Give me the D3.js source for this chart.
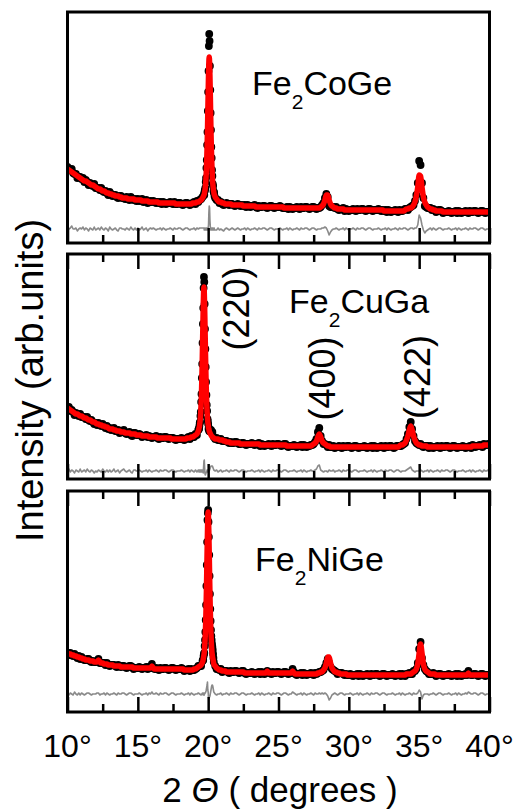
<!DOCTYPE html>
<html>
<head>
<meta charset="utf-8">
<script src="https://cdn.jsdelivr.net/npm/d3@7"></script>
<style>
  html, body { margin: 0; padding: 0; background: #fff; }
  svg { display: block; font-family: "Liberation Sans", Arial, Helvetica, sans-serif; }
</style>
</head>
<body>
<svg id="chart" width="519" height="812"></svg>
<script>
// ---- XRD scans: 2θ from 10° to 40°, main grid step 0.1°, fine grid 0.025° across the (220) peak ----
const scanStart = 10;
const scanStep = 0.1;
const fineStep = 0.025;

// Fe2CoGe
const coGeObs = [
  76,73,73,74,70,69,69,65,66,66, 64,65,61,63,61,58,60,58,57,59,
  55,55,55,53,55,52,51,52,50,48, 51,49,47,48,48,46,45,47,47,45,
  45,44,46,44,43,46,44,43,44,42, 44,42,43,44,41,42,43,40,41,42,
  41,42,41,40,41,40,41,39,41,40, 39,40,40,41,40,39,41,39,39,40,
  40,39,38,39,40,40,39,38,39,40, 41,39,42,41,43,44,46,49,55,83,
  151,202,113,67,51,45,43,43,40,41, 39,38,39,40,39,38,39,39,38,37,
  38,39,38,37,38,37,38,36,38,37, 36,37,37,38,36,35,37,36,36,37,
  37,36,35,36,37,37,36,35,36,36, 36,37,36,35,35,35,36,34,36,35,
  34,35,35,36,35,34,36,35,35,36, 36,35,34,35,36,36,35,34,35,35,
  36,38,40,45,49,46,37,36,36,36, 35,36,34,33,34,34,35,32,34,33,
  32,33,33,34,33,32,34,33,33,34, 34,33,32,33,34,34,33,32,33,33,
  33,34,33,32,33,32,33,31,33,32, 31,32,32,33,32,31,33,32,32,33,
  34,34,33,35,36,37,38,42,48,60, 82,78,60,45,37,36,35,35,35,33,
  34,33,31,32,33,33,32,30,31,31, 31,32,31,30,31,31,32,30,32,31,
  30,31,31,32,31,30,32,31,31,32, 32,31,30,31,32,32,31,30,31,31,
  31
];
const coGeCalc = [
  74,73,72,71,70,69,68,67,66,65, 64,63,62,62,61,60,59,58,58,57,
  56,55,54,54,53,52,52,51,50,50, 49,49,48,48,47,47,47,46,46,45,
  45,45,45,44,44,44,44,44,43,43, 43,43,43,42,42,42,42,42,41,41,
  41,41,41,41,41,40,40,40,40,40, 40,40,40,40,40,40,40,39,39,39,
  39,39,39,39,39,39,39,39,39,40, 40,40,41,41,42,43,45,48,56,84,
  150,181,112,66,51,46,44,42,41,41, 40,40,39,39,39,39,39,38,38,38,
  38,38,38,38,38,37,37,37,37,37, 37,37,37,37,36,36,36,36,36,36,
  36,36,36,36,36,36,36,36,36,36, 36,36,36,36,35,35,35,35,35,35,
  35,35,35,35,35,35,35,35,35,35, 35,35,35,35,35,35,35,35,35,35,
  36,37,39,43,48,48,43,39,37,36, 35,35,34,34,34,34,34,33,33,33,
  33,33,33,33,33,33,33,33,33,33, 33,33,33,33,33,33,33,33,33,33,
  33,33,33,33,33,32,32,32,32,32, 32,32,32,32,32,32,32,32,32,32,
  33,34,34,35,35,36,38,41,47,56, 68,67,56,46,41,38,36,35,34,34,
  33,33,32,32,32,32,32,31,31,31, 31,31,31,31,31,31,31,31,31,31,
  31,31,31,31,31,31,31,31,31,31, 31,31,31,31,31,31,31,31,31,31,
  31
];
const coGePeakStart = 19.7;
const coGePeakObs  = [49,48,52,53,55,61,65,75,83,98,111,132,151,172,197,209,202,177,153,130,113,96,85,73,67,59,57,52,51,50,47];
const coGePeakCalc = [48,49,51,53,56,60,66,74,84,97,112,131,150,168,181,186,181,168,150,131,112,97,84,74,66,60,56,53,51,49,48];

// Fe2CuGa
const cuGaObs = [
  71,72,68,69,67,64,66,65,63,65, 62,62,62,60,62,59,58,59,57,55,
  56,54,56,54,53,55,53,51,53,50, 51,49,50,51,48,48,49,46,47,48,
  49,46,45,46,47,44,43,46,46,44, 44,45,44,42,43,43,44,42,43,42,
  41,42,42,43,41,40,42,41,41,42, 42,41,40,41,41,41,40,39,40,40,
  40,41,40,39,40,41,42,40,43,42, 42,45,44,49,56,77,136,202,130,74,
  55,48,49,47,42,40,41,39,39,40, 38,38,38,38,37,36,37,36,36,37,
  37,36,35,35,36,36,35,34,35,35, 35,36,35,34,35,35,36,33,35,34,
  33,34,34,35,34,33,35,34,34,35, 35,34,33,34,35,35,33,32,33,33,
  33,34,33,32,33,33,34,32,34,33, 32,33,33,34,34,35,37,40,47,51,
  43,38,35,35,34,32,34,32,32,33, 31,32,32,33,32,31,33,32,32,33,
  33,32,31,32,33,33,32,31,32,32, 32,33,32,31,32,32,33,31,33,32,
  31,32,32,33,32,31,33,32,32,33, 33,32,31,32,33,33,33,33,34,35,
  36,40,45,52,57,50,43,38,36,35, 34,35,33,32,33,33,33,31,33,32,
  31,32,32,33,32,31,33,32,32,33, 33,32,31,32,33,33,32,31,32,32,
  32,33,32,31,32,32,33,31,34,33, 32,33,33,34,33,32,35,34,34,35,
  34
];
const cuGaCalc = [
  71,70,69,68,67,66,65,65,64,63, 63,62,61,61,60,59,59,58,57,57,
  56,55,55,54,54,53,53,52,52,51, 50,50,50,49,49,48,48,48,47,47,
  47,46,46,46,46,45,45,45,45,44, 44,44,44,43,43,43,43,43,42,42,
  42,42,42,42,41,41,41,41,41,41, 41,41,41,41,40,40,40,40,40,40,
  40,40,40,40,40,41,41,41,42,42, 43,44,45,48,55,76,135,192,134,75,
  54,47,44,42,41,40,40,40,39,39, 39,38,38,37,37,37,36,36,36,36,
  36,36,36,35,35,35,35,35,35,35, 35,35,35,35,35,35,35,34,34,34,
  34,34,34,34,34,34,34,34,34,34, 34,34,34,34,34,34,33,33,33,33,
  33,33,33,33,33,33,33,33,33,33, 33,33,33,33,34,35,36,38,42,45,
  42,38,36,35,34,33,33,32,32,32, 32,32,32,32,32,32,32,32,32,32,
  32,32,32,32,32,32,32,32,32,32, 32,32,32,32,32,32,32,32,32,32,
  32,32,32,32,32,32,32,32,32,32, 32,32,32,32,32,32,33,34,34,35,
  36,39,43,49,53,49,43,39,36,35, 34,34,33,33,33,33,32,32,32,32,
  32,32,32,32,32,32,32,32,32,32, 32,32,32,32,32,32,32,32,32,32,
  32,32,32,32,32,32,32,32,33,33, 33,33,33,33,33,33,34,34,34,34,
  34
];
const cuGaPeakStart = 19.325;
const cuGaPeakObs  = [50,50,53,56,57,63,67,77,85,101,115,136,155,171,191,202,197,175,150,130,112,97,84,74,68,60,58,55,50,51,48];
const cuGaPeakCalc = [49,51,52,55,58,62,68,76,86,100,116,135,154,173,187,192,186,172,153,134,115,99,85,75,67,61,57,54,51,50,48];

// Fe2NiGe
const niGeObs = [
  59,57,59,57,56,58,56,54,56,53, 55,53,52,52,53,53,51,50,51,50,
  50,51,53,49,49,49,49,47,49,47, 46,47,47,47,46,45,47,46,45,46,
  46,45,44,45,46,46,45,43,44,44, 44,45,44,43,44,44,45,43,45,44,
  48,44,43,44,43,42,44,43,43,44, 44,43,42,43,44,44,43,42,43,43,
  43,44,43,41,42,42,43,41,43,42, 42,43,44,46,46,46,51,58,80,147,
  202,136,82,65,50,46,43,43,42,43, 40,41,41,41,40,39,41,40,40,41,
  41,40,39,40,41,41,39,38,39,39, 39,40,39,38,39,39,40,38,40,39,
  38,39,41,40,39,38,40,39,39,40, 40,39,38,39,40,40,39,38,39,39,
  43,40,38,37,38,38,39,37,39,38, 37,38,38,39,38,37,39,38,39,40,
  40,41,42,45,49,53,49,45,43,42, 41,40,38,39,39,39,38,37,38,37,
  37,38,37,36,37,37,38,36,38,37, 36,37,37,38,37,36,38,37,37,38,
  38,37,36,37,38,38,37,36,37,37, 37,38,37,36,37,37,38,36,38,37,
  36,38,38,39,38,38,41,41,43,49, 63,70,54,47,43,41,40,38,38,38,
  39,38,36,37,38,38,37,36,37,37, 37,38,37,36,37,37,38,36,38,37,
  36,37,37,38,37,41,38,37,37,38, 38,37,36,37,38,38,37,36,37,37,
  37
];
const niGeCalc = [
  59,58,58,57,57,56,56,55,55,54, 54,53,53,52,52,52,51,51,51,50,
  50,50,52,50,49,49,48,48,48,47, 47,47,47,46,46,46,46,46,45,45,
  45,45,45,45,45,45,45,44,44,44, 44,44,44,44,44,44,44,44,44,44,
  46,44,43,43,43,43,43,43,43,43, 43,43,43,43,43,43,43,43,43,43,
  43,43,43,42,42,42,42,42,42,42, 43,43,44,45,46,47,50,57,79,140,
  200,139,78,56,48,46,44,43,42,42, 41,41,41,40,40,40,40,40,40,40,
  40,40,40,40,40,40,39,39,39,39, 39,39,39,39,39,39,39,39,39,39,
  39,39,41,39,39,39,39,39,39,39, 39,39,39,39,39,39,39,39,39,39,
  41,39,38,38,38,38,38,38,38,38, 38,38,38,38,38,38,38,38,39,39,
  40,40,42,44,49,55,55,49,44,42, 40,40,39,39,38,38,38,38,38,37,
  37,37,37,37,37,37,37,37,37,37, 37,37,37,37,37,37,37,37,37,37,
  37,37,37,37,37,37,37,37,37,37, 37,37,37,37,37,37,37,37,37,37,
  37,38,38,38,38,39,40,41,43,48, 59,68,59,48,43,41,40,39,38,38,
  38,38,37,37,37,37,37,37,37,37, 37,37,37,37,37,37,37,37,37,37,
  37,37,37,37,37,39,37,37,37,37, 37,37,37,37,37,37,37,37,37,37,
  37
];
const niGePeakStart = 19.625;
const niGePeakObs  = [52,52,56,58,59,66,72,80,92,107,126,147,170,192,199,202,190,175,157,136,118,103,91,82,76,72,68,65,62,58,54];
const niGePeakCalc = [51,53,55,57,60,65,71,79,90,104,121,140,161,180,195,200,194,179,160,139,120,103,89,78,70,64,59,56,54,52,50];

// Axis ticks and labels
const majorTicks = [10, 15, 20, 25, 30, 35, 40];
const minorTicks = [12.5, 17.5, 22.5, 27.5, 32.5, 37.5];
const tickLabels = ["10°", "15°", "20°", "25°", "30°", "35°", "40°"];

// Compound names (element, subscript, remainder)
const compoundHead = ["Fe", "Fe", "Fe"];
const compoundSub = ["2", "2", "2"];
const compoundTail = ["CoGe", "CuGa", "NiGe"];

// Bragg reflections marked in the middle panel
const reflections = ["(220)", "(400)", "(422)"];

// ---- layout ----
const svg = d3.select("#chart");
const left = 67.5, right = 489.5;
const x = d3.scaleLinear().domain([10, 40]).range([left, right]);

const panels = [
  { obs: coGeObs, calc: coGeCalc, pStart: coGePeakStart, pObs: coGePeakObs, pCalc: coGePeakCalc,
    top: 12, bottom: 243, diffBase: 14, topTicks: false, label: [252, 95] },
  { obs: cuGaObs, calc: cuGaCalc, pStart: cuGaPeakStart, pObs: cuGaPeakObs, pCalc: cuGaPeakCalc,
    top: 254, bottom: 479, diffBase: 8, topTicks: true, label: [289, 313] },
  { obs: niGeObs, calc: niGeCalc, pStart: niGePeakStart, pObs: niGePeakObs, pCalc: niGePeakCalc,
    top: 491, bottom: 712, diffBase: 18, topTicks: true, label: [255, 571] }
];

function buildScan(p) {
  const pEnd = p.pStart + (p.pObs.length - 1) * fineStep;
  const pts = [];
  p.obs.forEach((o, i) => {
    const t = scanStart + i * scanStep;
    if (t < p.pStart - 1e-6 || t > pEnd + 1e-6) pts.push({ t, obs: o, calc: p.calc[i] });
  });
  p.pObs.forEach((o, i) => pts.push({ t: p.pStart + i * fineStep, obs: o, calc: p.pCalc[i] }));
  pts.sort((a, b) => a.t - b.t);
  return pts;
}

panels.forEach((p, idx) => {
  const pts = buildScan(p);
  const y = d3.scaleLinear().domain([0, p.bottom - p.top]).range([p.bottom, p.top]);
  const g = svg.append("g");

  const clipId = "clip" + idx;
  svg.append("clipPath").attr("id", clipId)
    .append("rect").attr("x", left).attr("y", p.top)
    .attr("width", right - left).attr("height", p.bottom - p.top);

  const plot = g.append("g").attr("clip-path", `url(#${clipId})`);

  // difference curve (obs - calc)
  plot.append("path")
    .datum(pts)
    .attr("fill", "none")
    .attr("stroke", "#8a8a8a")
    .attr("stroke-width", 1.6)
    .attr("stroke-linejoin", "round")
    .attr("d", d3.line().x(d => x(d.t)).y(d => y(d.obs - d.calc + p.diffBase)));

  // observed points
  plot.append("g").selectAll("circle")
    .data(pts).join("circle")
    .attr("cx", d => x(d.t)).attr("cy", d => y(d.obs))
    .attr("r", 3.9).attr("fill", "#000");

  // calculated profile
  plot.append("path")
    .datum(pts)
    .attr("fill", "none")
    .attr("stroke", "#ff0000")
    .attr("stroke-width", 5.5)
    .attr("stroke-linejoin", "round")
    .attr("stroke-linecap", "round")
    .attr("d", d3.line().x(d => x(d.t)).y(d => y(d.calc)).curve(d3.curveMonotoneX));

  // inward ticks
  const tickGroup = (axisFn, ypos, values, size) => {
    const ax = g.append("g").attr("transform", `translate(0,${ypos})`)
      .call(axisFn(x).tickValues(values).tickSize(-size).tickFormat(""));
    ax.select(".domain").remove();
    ax.selectAll("line").attr("stroke", "#000").attr("stroke-width", 2.5);
  };
  tickGroup(d3.axisBottom, p.bottom, majorTicks, 15);
  tickGroup(d3.axisBottom, p.bottom, minorTicks, 8);
  if (p.topTicks) {
    tickGroup(d3.axisTop, p.top, majorTicks, 15);
    tickGroup(d3.axisTop, p.top, minorTicks, 8);
  }

  // frame
  g.append("rect")
    .attr("x", left).attr("y", p.top)
    .attr("width", right - left).attr("height", p.bottom - p.top)
    .attr("fill", "none").attr("stroke", "#000").attr("stroke-width", 3);

  // compound label
  const t = g.append("text").attr("x", p.label[0]).attr("y", p.label[1])
    .attr("font-size", 34).attr("fill", "#000");
  t.append("tspan").text(compoundHead[idx]);
  t.append("tspan").attr("font-size", 21).attr("dy", 14).text(compoundSub[idx]);
  t.append("tspan").attr("dy", -14).text(compoundTail[idx]);
});

// reflection indices, rotated
const reflPos = [[249, 308.5], [335, 378.5], [429.5, 377]];
reflections.forEach((r, i) => {
  svg.append("text")
    .attr("transform", `translate(${reflPos[i][0]},${reflPos[i][1]}) rotate(-90)`)
    .attr("text-anchor", "middle")
    .attr("font-size", 36)
    .attr("fill", "#000")
    .text(r);
});

// x tick labels under the bottom panel
svg.append("g").selectAll("text")
  .data(majorTicks).join("text")
  .attr("x", d => x(d)).attr("y", 757)
  .attr("text-anchor", "middle")
  .attr("font-size", 32)
  .attr("fill", "#000")
  .text((d, i) => tickLabels[i]);

// x axis title
const xt = svg.append("text")
  .attr("x", 280).attr("y", 802)
  .attr("text-anchor", "middle")
  .attr("font-size", 35)
  .attr("fill", "#000");
xt.append("tspan").text("2 ");
xt.append("tspan").attr("font-style", "italic").text("Θ");
xt.append("tspan").text(" ( degrees )");

// y axis title
svg.append("text")
  .attr("transform", "translate(43,380.5) rotate(-90)")
  .attr("text-anchor", "middle")
  .attr("font-size", 38)
  .attr("fill", "#000")
  .text("Intensity (arb.units)");
</script>
</body>
</html>
